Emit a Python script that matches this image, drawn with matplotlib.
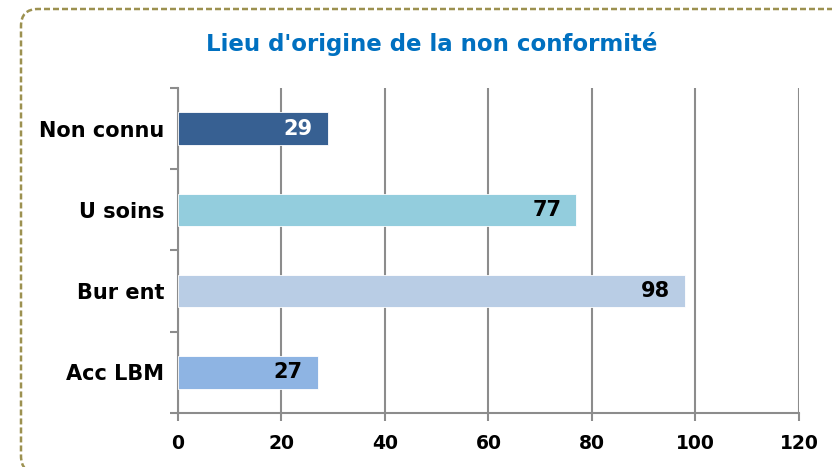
import matplotlib
matplotlib.use("Agg")
import matplotlib.pyplot as plt
from matplotlib.patches import FancyBboxPatch

# data (bottom to top as drawn)
categories = ["Acc LBM", "Bur ent", "U soins", "Non connu"]
values = [27, 98, 77, 29]
bar_colors = ["#8EB4E3", "#B9CDE5", "#93CDDD", "#376092"]
label_colors = ["black", "black", "black", "white"]
x_ticks = [0, 20, 40, 60, 80, 100, 120]

plt.rcParams['font.family'] = ['DejaVu Sans']

fig = plt.figure(figsize=(8.32, 4.67), dpi=100)
ax = fig.add_axes([0.2139, 0.1156, 0.7464, 0.696])

y = list(range(len(categories)))
ax.barh(y, values, height=0.4, color=bar_colors, edgecolor="white", linewidth=0.6, zorder=3)

# value labels inside bar ends
for yi, v, c in zip(y, values, label_colors):
    ax.annotate(str(v), xy=(v, yi), xytext=(-11, 0), textcoords="offset points",
                ha="right", va="center", fontsize=15, fontweight="bold",
                color=c, zorder=4)

ax.set_xlim(0, 120)
ax.set_ylim(-0.5, len(categories) - 0.5)
ax.set_xticks(x_ticks)
ax.set_xticklabels([str(t) for t in x_ticks], fontsize=13.5, fontweight="bold")
ax.xaxis.grid(True, color="#8c8c8c", linewidth=1.5, zorder=0)

# category labels on the y axis, ticks at category boundaries
ax.set_yticks(y)
ax.set_yticklabels(categories, fontsize=15, fontweight="bold")
ax.tick_params(axis="y", length=0, pad=10)
ax.set_yticks([i - 0.5 for i in range(len(categories) + 1)], minor=True)
ax.tick_params(axis="y", which="minor", length=6, width=1.5, color="#8c8c8c", direction="out")
ax.tick_params(axis="x", length=6, width=1.5, color="#8c8c8c", pad=9)

for side in ["top", "right"]:
    ax.spines[side].set_visible(False)
for side in ["left", "bottom"]:
    ax.spines[side].set_color("#8c8c8c")
    ax.spines[side].set_linewidth(1.5)

fig.text(0.519, 0.905, "Lieu d'origine de la non conformité", ha="center", va="center",
         fontsize=16.5, fontweight="bold", color="#0070C0")

# dashed rounded frame around the chart (pixel coords)
frame = FancyBboxPatch((21, -6), 850, 464, boxstyle="round,pad=0,rounding_size=17",
                       transform=None, fill=False, edgecolor="#9C9150",
                       linestyle=(0, (2.4, 1.2)), linewidth=1.8)
fig.patches.append(frame)

fig.savefig("out.png", dpi=100)
